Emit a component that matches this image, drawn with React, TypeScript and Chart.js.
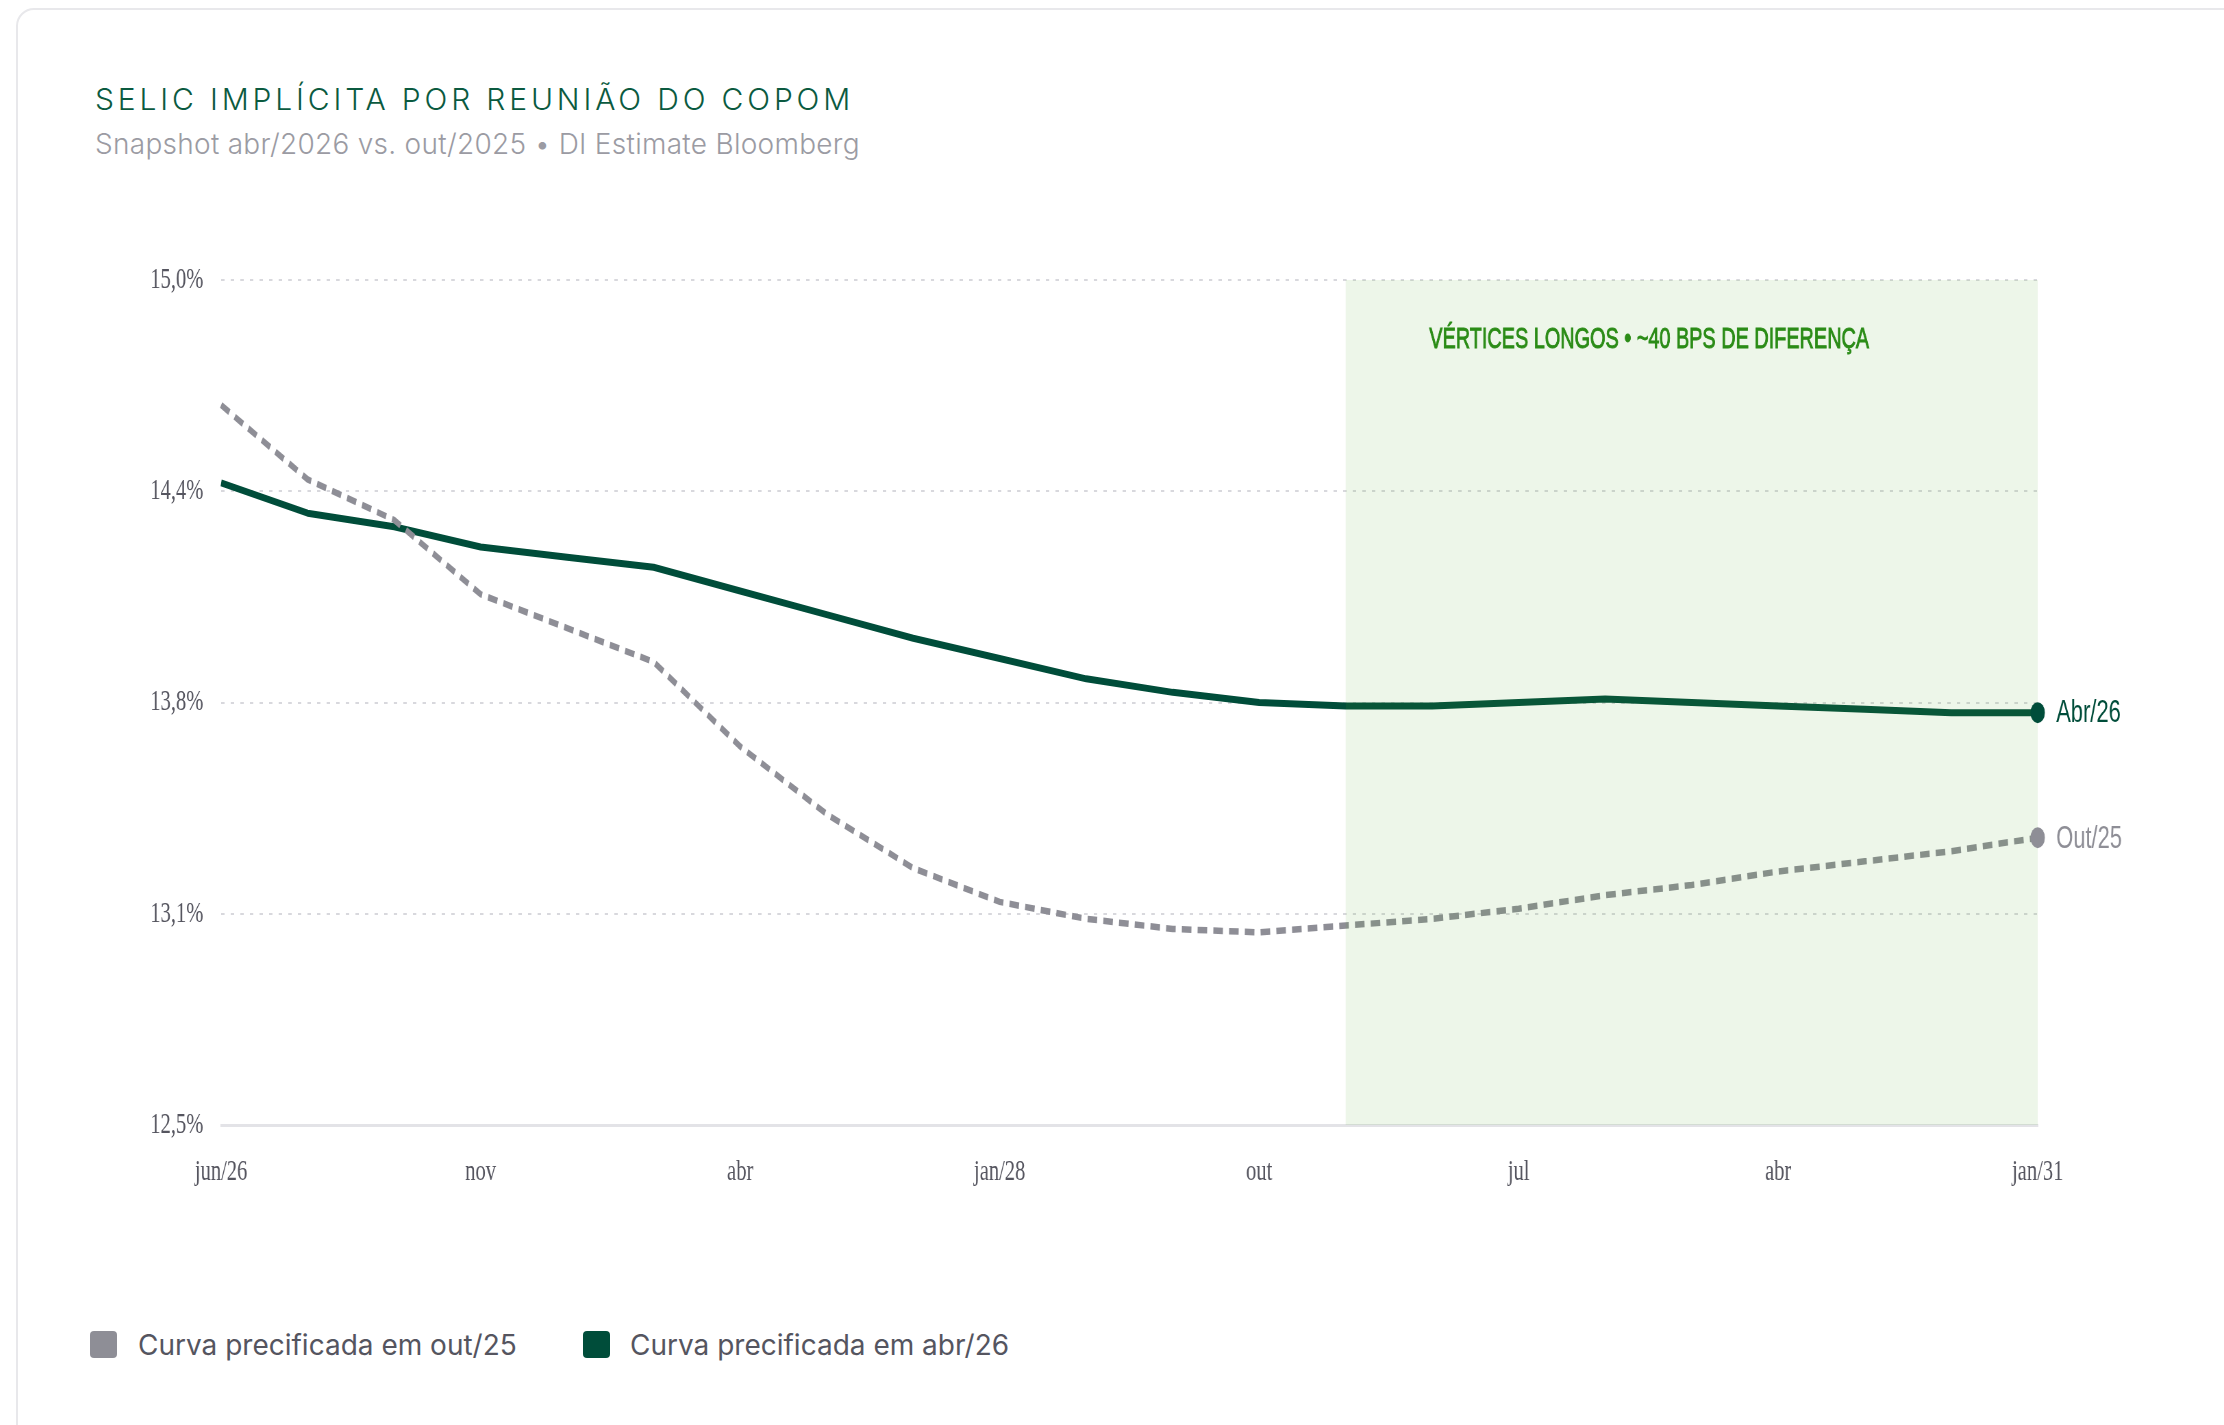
import React, { useEffect, useRef } from "react";
import { Chart, registerables } from "chart.js";

Chart.register(...registerables);

// Copom meeting dates (only every third one is labelled on the axis)
const MEETINGS = [
  "jun/26", "jul", "set", "nov", "dez", "fev", "abr", "jul", "out", "jan/28", "abr",
  "jul", "out", "jan/29", "abr", "jul", "out", "jan/30", "abr", "jul", "out", "jan/31",
];
const LABEL_EVERY = 3;

// Implied Selic (% a.a.) per meeting, curve priced in out/25
const CURVE_OUT25 = [
  14.63, 14.41, 14.29, 14.07, 13.97, 13.87, 13.62, 13.42, 13.26, 13.16, 13.11,
  13.08, 13.07, 13.09, 13.11, 13.14, 13.18, 13.21, 13.25, 13.28, 13.31, 13.35,
];

// Implied Selic (% a.a.) per meeting, curve priced in abr/26
const CURVE_ABR26 = [
  14.40, 14.31, 14.27, 14.21, 14.18, 14.15, 14.08, 14.01, 13.94, 13.88, 13.82,
  13.78, 13.75, 13.74, 13.74, 13.75, 13.76, 13.75, 13.74, 13.73, 13.72, 13.72,
];

const SERIES_NAMES = ["Curva precificada em out/25", "Curva precificada em abr/26"];
const END_TAGS = ["Out/25", "Abr/26"];

const Y_MIN = 12.5;
const Y_MAX = 15.0;
const Y_STEP = 0.625;

// Long-end highlight: from the jan/29 meeting to the last one
const BAND_FROM = 13;
const BAND_TO = 21;
const BAND_NOTE = "VÉRTICES LONGOS • ~40 BPS DE DIFERENÇA";

const GREY = "#8e8e96";
const GREEN = "#004d3a";

// The canvas is drawn wide and shown narrower (condensed rendering)
const SQUEEZE = 0.685;
const CSS_W = 2207;
const CSS_H = 1050;
const CANVAS_W = Math.round(CSS_W / SQUEEZE);

const fmtPct = (v: number) => v.toFixed(1).replace(".", ",") + "%";

const overlayPlugin = {
  id: "longEndOverlay",
  afterDatasetsDraw(chart: any) {
    const { ctx } = chart;
    const x = chart.scales.x;
    const y = chart.scales.y;
    const xa = x.getPixelForValue(BAND_FROM);
    const xb = x.getPixelForValue(BAND_TO);
    ctx.save();
    ctx.fillStyle = "rgba(75,165,35,0.1)";
    ctx.fillRect(xa, y.top, xb - xa, y.bottom - y.top);

    // band caption, slightly emboldened with a thin stroke
    ctx.fillStyle = "#2b8c17";
    ctx.strokeStyle = "#2b8c17";
    ctx.lineWidth = 0.9;
    ctx.font = '29px "Liberation Sans", Arial, sans-serif';
    ctx.textAlign = "left";
    ctx.textBaseline = "alphabetic";
    ctx.fillText(BAND_NOTE, xa + 122, y.top + 68);
    ctx.strokeText(BAND_NOTE, xa + 122, y.top + 68);

    const series = [
      { values: CURVE_OUT25, color: GREY, tag: END_TAGS[0] },
      { values: CURVE_ABR26, color: GREEN, tag: END_TAGS[1] },
    ];
    series.forEach((s) => {
      const last = s.values.length - 1;
      const px = x.getPixelForValue(last);
      const py = y.getPixelForValue(s.values[last]);
      ctx.beginPath();
      ctx.arc(px, py, 10.5, 0, Math.PI * 2);
      ctx.fillStyle = s.color;
      ctx.fill();
      ctx.font = '32px "Liberation Sans", Arial, sans-serif';
      ctx.textBaseline = "middle";
      ctx.fillText(s.tag, px + 27, py + 1);
    });
    ctx.restore();
  },
};

function SelicChart() {
  const ref = useRef<HTMLCanvasElement | null>(null);

  useEffect(() => {
    if (!ref.current) return;
    const tickFont = { family: '"Liberation Serif", "Times New Roman", serif', size: 30 };
    const chart = new Chart(ref.current, {
      type: "line",
      data: {
        labels: MEETINGS,
        datasets: [
          {
            label: SERIES_NAMES[0],
            data: CURVE_OUT25,
            borderColor: GREY,
            borderWidth: 6.5,
            borderDash: [14, 9],
            borderCapStyle: "butt",
            pointRadius: 0,
            tension: 0,
            fill: false,
          },
          {
            label: SERIES_NAMES[1],
            data: CURVE_ABR26,
            borderColor: GREEN,
            borderWidth: 7,
            borderJoinStyle: "round",
            pointRadius: 0,
            tension: 0,
            fill: false,
          },
        ],
      },
      options: {
        animation: false,
        responsive: false,
        devicePixelRatio: 1,
        events: [],
        layout: { padding: { top: 79, right: 272, left: 0, bottom: 0 } },
        plugins: {
          legend: { display: false },
          tooltip: { enabled: false },
        },
        scales: {
          x: {
            type: "category",
            offset: false,
            grid: { display: false, drawTicks: false },
            border: { display: true, color: "#e3e3e7", width: 3 },
            ticks: {
              autoSkip: false,
              maxRotation: 0,
              minRotation: 0,
              padding: 29,
              color: "#55555f",
              font: tickFont,
              callback: (_v: any, i: number) => (i % LABEL_EVERY === 0 ? MEETINGS[i] : ""),
            },
            afterFit: (s: any) => {
              s.height = 126;
            },
          },
          y: {
            min: Y_MIN,
            max: Y_MAX,
            grid: {
              drawTicks: false,
              lineWidth: 2,
              color: (c: any) => (c.tick && c.tick.value === Y_MIN ? "rgba(0,0,0,0)" : "#d8d8dd"),
            },
            border: { display: false, dash: [5, 9] },
            ticks: {
              stepSize: Y_STEP,
              padding: 26,
              color: "#55555f",
              font: tickFont,
              callback: (v: any) => fmtPct(Number(v)),
            },
            afterFit: (s: any) => {
              s.width = 298;
            },
          },
        },
      },
      plugins: [overlayPlugin],
    });
    return () => chart.destroy();
  }, []);

  return (
    <canvas
      ref={ref}
      width={CANVAS_W}
      height={CSS_H}
      style={{ position: "absolute", left: 17, top: 201, width: CSS_W, height: CSS_H }}
    />
  );
}

export default function App() {
  const legendText: React.CSSProperties = {
    position: "absolute",
    top: 1328,
    height: 27,
    lineHeight: "27px",
    font: '400 28px Inter, "Noto Sans", sans-serif',
    color: "#55555f",
    whiteSpace: "nowrap",
  };
  const legendBox: React.CSSProperties = {
    position: "absolute",
    top: 1331,
    width: 27,
    height: 27,
    borderRadius: 4,
  };
  return (
    <div style={{ position: "fixed", inset: 0, overflow: "hidden", background: "#ffffff" }}>
      <div
        style={{
          position: "absolute",
          left: 16,
          top: 8,
          width: 2300,
          height: 1500,
          border: "2px solid #e8e8eb",
          borderRadius: 18,
          boxSizing: "border-box",
        }}
      />
      <div
        style={{
          position: "absolute",
          left: 95,
          top: 84,
          font: '300 30px Inter, "Noto Sans", sans-serif',
          lineHeight: "30px",
          letterSpacing: "3.85px",
          color: "#0b5a40",
          whiteSpace: "nowrap",
        }}
      >
        SELIC IMPLÍCITA POR REUNIÃO DO COPOM
      </div>
      <div
        style={{
          position: "absolute",
          left: 95,
          top: 130,
          font: '300 28px Inter, "Noto Sans", sans-serif',
          lineHeight: "28px",
          letterSpacing: "0.28px",
          color: "#9b9ba3",
          whiteSpace: "nowrap",
        }}
      >
        Snapshot abr/2026 vs. out/2025 • DI Estimate Bloomberg
      </div>
      <SelicChart />
      <div style={{ ...legendBox, left: 90, background: GREY }} />
      <div style={{ ...legendText, left: 138 }}>{SERIES_NAMES[0]}</div>
      <div style={{ ...legendBox, left: 583, background: GREEN }} />
      <div style={{ ...legendText, left: 630 }}>{SERIES_NAMES[1]}</div>
    </div>
  );
}
